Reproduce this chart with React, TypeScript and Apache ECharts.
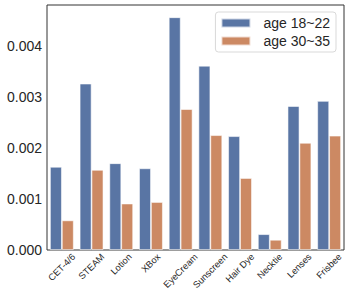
import React, { useEffect, useRef } from "react";
import * as echarts from "echarts";

const categories = ["CET-4/6", "STEAM", "Lotion", "XBox", "EyeCream", "Sunscreen", "Hair Dye", "Necktie", "Lenses", "Frisbee"];
const age1822 = [0.00163, 0.00326, 0.0017, 0.0016, 0.00456, 0.00361, 0.00223, 0.00031, 0.00282, 0.00292];
const age3035 = [0.00058, 0.00157, 0.00091, 0.00094, 0.00276, 0.00225, 0.00141, 0.0002, 0.0021, 0.00224];
const seriesNames = ["age 18~22", "age 30~35"];
const yTicks = { min: 0, max: 0.0048, interval: 0.001 };

const FONT = "Liberation Sans, Arial, sans-serif";
const XFS = 9.3;

function measure(t: string): number {
  const c = document.createElement("canvas").getContext("2d");
  if (!c) return t.length * 5.5;
  c.font = `${XFS}px ${FONT}`;
  return c.measureText(t).width;
}

export default function App() {
  const ref = useRef<HTMLDivElement>(null);
  useEffect(() => {
    if (!ref.current) return;
    const chart = echarts.init(ref.current, undefined, { renderer: "svg" });
    chart.setOption({
      animation: false,
      grid: { left: 47, top: 5, right: 5, bottom: 41, show: true, borderColor: "#333", borderWidth: 1, backgroundColor: "transparent" },
      legend: {
        orient: "vertical",
        right: 13,
        top: 12,
        itemWidth: 29,
        itemHeight: 9,
        itemGap: 4,
        padding: [4, 6, 4, 5],
        borderColor: "#d9d9d9",
        borderWidth: 1,
        borderRadius: 3,
        backgroundColor: "rgba(255,255,255,0.8)",
        icon: "rect",
        textStyle: { fontFamily: FONT, fontSize: 14, color: "#262626", padding: [0, 0, 0, 8] },
        data: seriesNames,
      },
      xAxis: {
        type: "category",
        data: categories,
        axisLine: { show: false },
        axisTick: { show: false },
        axisLabel: { show: false },
        splitLine: { show: false },
      },
      yAxis: {
        type: "value",
        min: yTicks.min,
        max: yTicks.max,
        interval: yTicks.interval,
        axisLine: { show: false },
        axisTick: { show: false },
        splitLine: { show: false },
        axisLabel: {
          margin: 5,
          fontFamily: FONT,
          fontSize: 14,
          color: "#262626",
          formatter: (v: number) => v.toFixed(3),
          showMaxLabel: false,
        },
      },
      series: [
        {
          name: seriesNames[0],
          type: "bar",
          data: age1822,
          barWidth: "40%",
          barGap: "0%",
          itemStyle: { color: "#5975a4", borderColor: "rgba(255,255,255,0.7)", borderWidth: 0.8 },
        },
        {
          name: seriesNames[1],
          type: "bar",
          data: age3035,
          barWidth: "40%",
          barGap: "0%",
          itemStyle: { color: "#cc8963", borderColor: "rgba(255,255,255,0.7)", borderWidth: 0.8 },
        },
      ],
    });
    const axisY = chart.convertToPixel({ yAxisIndex: 0 }, 0) as number;
    const h = XFS * 1.0;
    const pad = 2;
    const labels = categories.map((c, i) => {
      const x = chart.convertToPixel({ xAxisIndex: 0 }, i) as number;
      const w = measure(c);
      const half = (w + h) / (2 * Math.SQRT2);
      return {
        type: "text",
        x,
        y: axisY + pad + half,
        rotation: Math.PI / 4,
        style: { text: c, fontSize: XFS, fontFamily: FONT, fill: "#262626", align: "center", verticalAlign: "middle" },
      };
    });
    chart.setOption({ graphic: labels });
    return () => chart.dispose();
  }, []);
  return <div ref={ref} style={{ width: 349, height: 291, position: "absolute", left: 0, top: 0 }} />;
}
